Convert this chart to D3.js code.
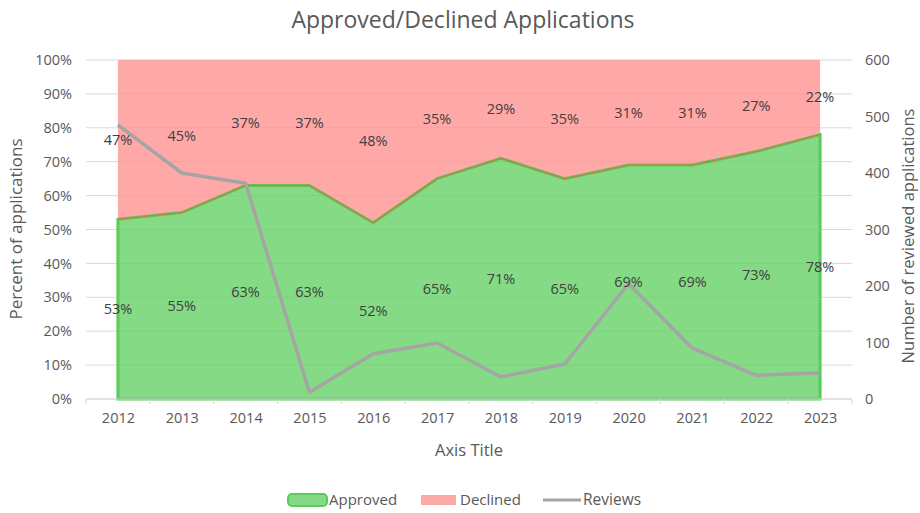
<!DOCTYPE html>
<html>
<head>
<meta charset="utf-8">
<script src="https://cdn.jsdelivr.net/npm/d3@7"></script>
<style>
  body { margin: 0; background: #fff; }
  text { font-family: "Open Sans", sans-serif; }
</style>
</head>
<body>
<div id="chart"></div>
<script>
// data
var years = ["2012", "2013", "2014", "2015", "2016", "2017", "2018", "2019", "2020", "2021", "2022", "2023"];
var approved = [53, 55, 63, 63, 52, 65, 71, 65, 69, 69, 73, 78];
var declined = [47, 45, 37, 37, 48, 35, 29, 35, 31, 31, 27, 22];
var reviews = [485, 400, 382, 12, 80, 99, 39, 62, 204, 90, 42, 46];
var pctTicks = [0, 10, 20, 30, 40, 50, 60, 70, 80, 90, 100];
var countTicks = [0, 100, 200, 300, 400, 500, 600];

var W = 920, H = 513;
var margin = { top: 60, right: 68, bottom: 114, left: 86 };
var width = W - margin.left - margin.right;
var height = H - margin.top - margin.bottom;

var svg = d3.select("#chart").append("svg").attr("width", W).attr("height", H);
var g = svg.append("g").attr("transform", "translate(" + margin.left + "," + margin.top + ")");

var x = d3.scalePoint().domain(years).range([0, width]).padding(0.5);
var xBand = d3.scaleBand().domain(years).range([0, width]);
var y = d3.scaleLinear().domain([0, 100]).range([height, 0]);
var y2 = d3.scaleLinear().domain([0, 600]).range([height, 0]);

var rows = years.map(function (yr, i) {
  return { year: yr, approved: approved[i], declined: declined[i], reviews: reviews[i] };
});
var series = d3.stack().keys(["approved", "declined"])(rows);

// gridlines underneath
g.append("g").selectAll("line").data(pctTicks).join("line")
  .attr("x1", 0).attr("x2", width)
  .attr("y1", function (d) { return y(d); }).attr("y2", function (d) { return y(d); })
  .attr("stroke", "#d9d9d9").attr("stroke-width", 1);

var area = d3.area()
  .x(function (d) { return x(d.data.year); })
  .y0(function (d) { return y(d[0]); })
  .y1(function (d) { return y(d[1]); });

// declined (top)
g.append("path").datum(series[1]).attr("d", area).attr("fill", "#ffa8a8");
// approved (bottom)
g.append("path").datum(series[0]).attr("d", area)
  .attr("fill", "#85da85").attr("stroke", "#5acb5a").attr("stroke-width", 3);
// boundary between the two
g.append("path").datum(series[0])
  .attr("d", d3.line().x(function (d) { return x(d.data.year); }).y(function (d) { return y(d[1]); }))
  .attr("fill", "none").attr("stroke", "#b28a4e").attr("stroke-width", 1.5);

// faint gridlines seen through the areas
g.append("g").selectAll("line").data(pctTicks.slice(1)).join("line")
  .attr("x1", x(years[0]) + 2).attr("x2", x(years[years.length - 1]) - 2)
  .attr("y1", function (d) { return y(d); }).attr("y2", function (d) { return y(d); })
  .attr("stroke", "#000").attr("stroke-opacity", 0.04).attr("stroke-width", 1);

// x axis line with tick marks between categories
g.append("line").attr("x1", 0).attr("x2", width).attr("y1", height).attr("y2", height)
  .attr("stroke", "#d9d9d9");
g.append("g").selectAll("line").data(years).join("line")
  .attr("x1", function (d) { return xBand(d); }).attr("x2", function (d) { return xBand(d); })
  .attr("y1", height).attr("y2", height + 5).attr("stroke", "#d9d9d9");
g.append("line").attr("x1", width).attr("x2", width).attr("y1", height).attr("y2", height + 5)
  .attr("stroke", "#d9d9d9");

// reviews line on secondary axis
g.append("path").datum(rows)
  .attr("d", d3.line().x(function (d) { return x(d.year); }).y(function (d) { return y2(d.reviews); }))
  .attr("fill", "none").attr("stroke", "#a5a5a5").attr("stroke-width", 3.5)
  .attr("stroke-linejoin", "round");

// data labels
g.append("g").selectAll("text").data(rows).join("text")
  .attr("x", function (d) { return x(d.year); })
  .attr("y", function (d) { return y(d.approved / 2); })
  .attr("dy", "0.35em").attr("text-anchor", "middle")
  .attr("font-size", 14.5).attr("fill", "#404040")
  .text(function (d) { return d.approved + "%"; });
g.append("g").selectAll("text").data(rows).join("text")
  .attr("x", function (d) { return x(d.year); })
  .attr("y", function (d) { return y(d.approved + d.declined / 2); })
  .attr("dy", "0.35em").attr("text-anchor", "middle")
  .attr("font-size", 14.5).attr("fill", "#404040")
  .text(function (d) { return d.declined + "%"; });

// axes
var xAxis = g.append("g").attr("transform", "translate(0," + height + ")")
  .call(d3.axisBottom(x).tickSize(0).tickPadding(14));
xAxis.select(".domain").remove();
var yAxis = g.append("g").call(d3.axisLeft(y).tickValues(pctTicks).tickSize(0).tickPadding(14)
  .tickFormat(function (d) { return d + "%"; }));
yAxis.select(".domain").remove();
var y2Axis = g.append("g").attr("transform", "translate(" + width + ",0)")
  .call(d3.axisRight(y2).tickValues(countTicks).tickSize(0).tickPadding(13));
y2Axis.select(".domain").remove();
g.selectAll(".tick text").attr("font-family", "'Open Sans', sans-serif").attr("font-size", 14.5).attr("fill", "#595959");

// titles
svg.append("text").attr("x", 463).attr("y", 28).attr("text-anchor", "middle")
  .attr("font-size", 23).attr("fill", "#595959").text("Approved/Declined Applications");
svg.append("text").attr("x", 469).attr("y", 456).attr("text-anchor", "middle")
  .attr("font-size", 16.5).attr("fill", "#595959").text("Axis Title");
svg.append("text").attr("transform", "translate(22,229) rotate(-90)").attr("text-anchor", "middle")
  .attr("font-size", 17).attr("fill", "#595959").text("Percent of applications");
svg.append("text").attr("transform", "translate(914,236) rotate(-90)").attr("text-anchor", "middle")
  .attr("font-size", 16.5).attr("fill", "#595959").text("Number of reviewed applications");

// legend
var legend = svg.append("g").attr("transform", "translate(0,500)");
legend.append("rect").attr("x", 288).attr("y", -6).attr("width", 39).attr("height", 12).attr("rx", 4)
  .attr("fill", "#85da85").attr("stroke", "#5acb5a").attr("stroke-width", 2);
legend.append("text").attr("x", 329).attr("y", 0).attr("dy", "0.35em")
  .attr("font-size", 15).attr("fill", "#595959").text("Approved");
legend.append("rect").attr("x", 421).attr("y", -5).attr("width", 35).attr("height", 10).attr("fill", "#ffa8a8");
legend.append("text").attr("x", 460).attr("y", 0).attr("dy", "0.35em")
  .attr("font-size", 15).attr("fill", "#595959").text("Declined");
legend.append("line").attr("x1", 543).attr("x2", 581).attr("y1", 0).attr("y2", 0)
  .attr("stroke", "#a5a5a5").attr("stroke-width", 3);
legend.append("text").attr("x", 583).attr("y", 0).attr("dy", "0.35em")
  .attr("font-size", 15.5).attr("fill", "#595959").text("Reviews");
</script>
</body>
</html>
